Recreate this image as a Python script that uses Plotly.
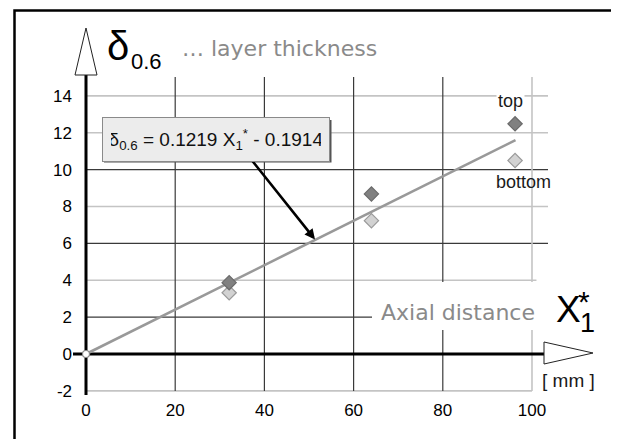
import plotly.graph_objects as go

# ---------------- data ----------------
x_pos = [32.1, 64.0, 96.2]
top_vals = [3.87, 8.68, 12.48]
bottom_vals = [3.32, 7.23, 10.49]
trend_x = [0.0, 96.3]
trend_y = [0.0, 11.6]
x_ticks = [0, 20, 40, 60, 80, 100]
y_ticks = [-2, 0, 2, 4, 6, 8, 10, 12, 14]
grid_y_dark = [2, 6, 10]
grid_y_light = [-2, 4, 8, 12, 14]
grid_x_dark = [20, 40, 60, 80]
grid_x_light = [100]
eq_text = "δ<sub>0.6</sub> = 0.1219 X<sub>1</sub><sup>*</sup> - 0.1914"

# ---------------- geometry helpers (reference pixel -> data) ----------------
OFF = 8                      # default page (body) margin
W, H = 619 - OFF, 439 - OFF  # figure size so it fits the window
X0_PX, XS = 86.0, 4.46
Y0_PX, YS = 354.0, 18.44


def px_x(p):
    return (p - X0_PX) / XS


def px_y(p):
    return (Y0_PX - p) / YS


fig = go.Figure()

fig.add_trace(go.Scatter(x=trend_x, y=trend_y, mode="lines",
                         line=dict(color="#999999", width=2.6),
                         hoverinfo="skip", showlegend=False))
fig.add_trace(go.Scatter(x=[trend_x[0]], y=[trend_y[0]], mode="markers",
                         marker=dict(symbol="circle", size=7, color="white",
                                     line=dict(color="#888888", width=1.2)),
                         showlegend=False))
fig.add_trace(go.Scatter(x=x_pos, y=bottom_vals, mode="markers", name="bottom",
                         marker=dict(symbol="diamond", size=11, color="#d2d2d2",
                                     line=dict(color="#9a9a9a", width=1.2)),
                         showlegend=False))
fig.add_trace(go.Scatter(x=x_pos, y=top_vals, mode="markers", name="top",
                         marker=dict(symbol="diamond", size=11, color="#808080",
                                     line=dict(color="#6a6a6a", width=1.2)),
                         showlegend=False))

shapes = []
GX_END = px_x(548)
GY_TOP = px_y(77)
for v in grid_y_light:
    shapes.append(dict(type="line", xref="x", yref="y", x0=0,
                       x1=(100 if v == -2 else (101 if v == 4 else GX_END)),
                       y0=v, y1=v, line=dict(color="#c4c4c4", width=1.6), layer="below"))
for v in grid_y_dark:
    shapes.append(dict(type="line", xref="x", yref="y", x0=0, x1=GX_END,
                       y0=v, y1=v, line=dict(color="#3a3a3a", width=1.2), layer="below"))
for v in grid_x_light:
    shapes.append(dict(type="line", xref="x", yref="y", x0=v, x1=v,
                       y0=-2, y1=GY_TOP, line=dict(color="#c4c4c4", width=1.6), layer="below"))
for v in grid_x_dark:
    shapes.append(dict(type="line", xref="x", yref="y", x0=v, x1=v,
                       y0=-2, y1=GY_TOP, line=dict(color="#3a3a3a", width=1.2), layer="below"))

# thick axes
shapes.append(dict(type="line", xref="x", yref="y", x0=0, x1=0, y0=px_y(395), y1=px_y(75),
                   line=dict(color="black", width=3), layer="below"))
shapes.append(dict(type="line", xref="x", yref="y", x0=px_x(73), x1=px_x(544), y0=0, y1=0,
                   line=dict(color="black", width=3), layer="below"))
# hollow arrow heads
shapes.append(dict(type="path", xref="x", yref="y",
                   path=f"M {px_x(75)},{px_y(75)} L {px_x(86)},{px_y(28)} L {px_x(97)},{px_y(75)} Z",
                   fillcolor="white", line=dict(color="#222222", width=1)))
shapes.append(dict(type="path", xref="x", yref="y",
                   path=f"M {px_x(544)},{px_y(342)} L {px_x(593)},{px_y(353)} L {px_x(544)},{px_y(364)} Z",
                   fillcolor="white", line=dict(color="#222222", width=1)))
# white area behind "Axial distance" (interrupts grid lines)
shapes.append(dict(type="rect", xref="x", yref="y", x0=px_x(372), x1=px_x(549),
                   y0=px_y(330), y1=px_y(282), fillcolor="white", line=dict(width=0), layer="below"))
# equation box shadow
shapes.append(dict(type="rect", xref="x", yref="y", x0=px_x(104), x1=px_x(331.5),
                   y0=px_y(162.5), y1=px_y(120), fillcolor="#555555", line=dict(width=0)))
# outer frame
shapes.append(dict(type="rect", xref="x", yref="y", x0=px_x(14.5), x1=px_x(615),
                   y0=px_y(460), y1=px_y(10.5), line=dict(color="black", width=2.5),
                   fillcolor="rgba(0,0,0,0)"))

ann = []
ann.append(dict(x=px_x(315), y=px_y(239.5), ax=px_x(250), ay=px_y(158), xref="x", yref="y",
                axref="x", ayref="y", text="", showarrow=True, arrowhead=2, arrowsize=0.8,
                arrowwidth=2.6, arrowcolor="black"))
ann.append(dict(x=px_x(215.5), y=px_y(139), xref="x", yref="y", text=eq_text, showarrow=False,
                font=dict(family="Liberation Sans, Arial", size=19, color="#111111"),
                bgcolor="#ececec", bordercolor="#8a8a8a", borderwidth=1, borderpad=8,
                width=210, height=27, xanchor="center", yanchor="middle"))
sans = "Liberation Sans, Arial, sans-serif"
ann.append(dict(x=px_x(510), y=px_y(101), xref="x", yref="y", text="top", showarrow=False,
                font=dict(family=sans, size=18, color="#1a1a1a"), bgcolor="white", borderpad=1))
ann.append(dict(x=px_x(523.5), y=px_y(182), xref="x", yref="y", text="bottom", showarrow=False,
                font=dict(family=sans, size=18, color="#1a1a1a")))
ann.append(dict(x=px_x(457.5), y=px_y(312), xref="x", yref="y", text="Axial distance", showarrow=False,
                font=dict(family="DejaVu Sans", size=22, color="#8a8a8a")))
ann.append(dict(x=px_x(568), y=px_y(309), xref="x", yref="y", text="X", showarrow=False,
                font=dict(family=sans, size=37, color="black")))
ann.append(dict(x=px_x(587), y=px_y(323), xref="x", yref="y", text="1", showarrow=False,
                font=dict(family=sans, size=27, color="black")))
ann.append(dict(x=px_x(584), y=px_y(301), xref="x", yref="y", text="*", showarrow=False,
                font=dict(family=sans, size=30, color="black")))
ann.append(dict(x=px_x(568), y=px_y(380), xref="x", yref="y", text="[ mm ]", showarrow=False,
                font=dict(family=sans, size=19, color="#1a1a1a")))
ann.append(dict(x=px_x(118), y=px_y(46), xref="x", yref="y", text="δ", showarrow=False,
                font=dict(family=sans, size=40, color="black")))
ann.append(dict(x=px_x(146), y=px_y(61), xref="x", yref="y", text="0.6", showarrow=False,
                font=dict(family=sans, size=22, color="black")))
ann.append(dict(x=px_x(180), y=px_y(48), xref="x", yref="y", text="… layer thickness", showarrow=False,
                xanchor="left", font=dict(family="DejaVu Sans", size=22, color="#8a8a8a")))

fig.update_layout(
    width=W, height=H,
    margin=dict(l=0, r=0, t=0, b=0, pad=0),
    paper_bgcolor="white", plot_bgcolor="white",
    shapes=shapes, annotations=ann,
    xaxis=dict(range=[px_x(OFF), px_x(OFF + W)], domain=[0, 1], anchor="free",
               position=1 - (390 - OFF) / H,
               tickvals=x_ticks, ticktext=[str(v) for v in x_ticks], showgrid=False, zeroline=False,
               showline=False, ticks="", ticklabelstandoff=8,
               tickfont=dict(family=sans, size=17, color="black")),
    yaxis=dict(range=[px_y(OFF + H), px_y(OFF)], domain=[0, 1], anchor="free",
               position=(X0_PX - OFF) / W,
               tickvals=y_ticks, ticktext=[str(v) for v in y_ticks], showgrid=False, zeroline=False,
               showline=False, ticks="", ticklabelstandoff=14,
               tickfont=dict(family=sans, size=17, color="black")),
    showlegend=False,
)

fig.write_html("out.html")
